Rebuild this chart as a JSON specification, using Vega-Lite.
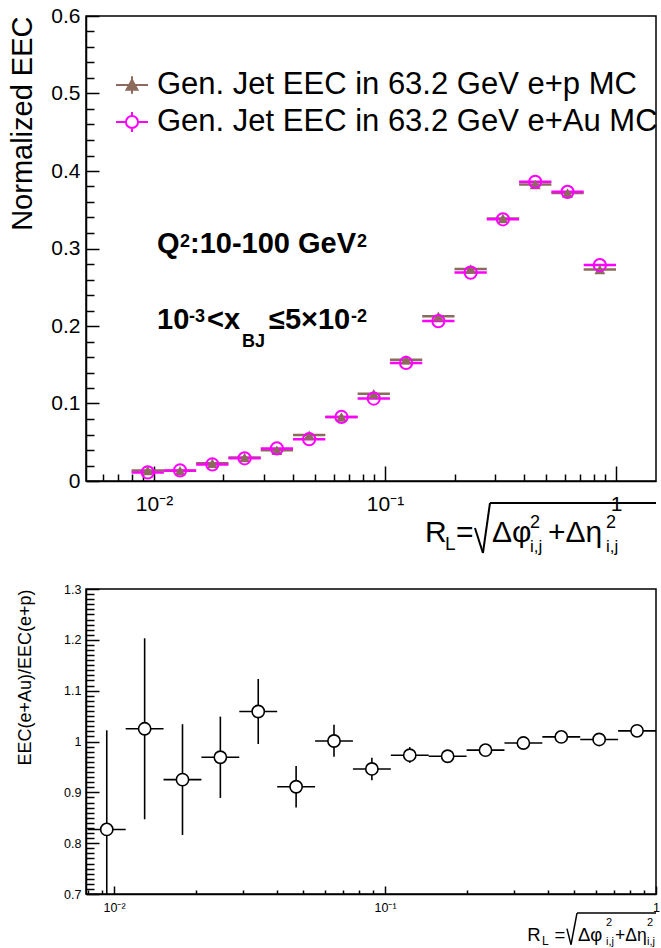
{
  "$schema": "https://vega.github.io/schema/vega-lite/v6.json",
  "background": "white",
  "padding": {"left": 8, "top": 4, "right": 4, "bottom": 0},
  "config": {
    "font": "Liberation Sans",
    "view": {"stroke": "black", "strokeWidth": 1.5},
    "axis": {
      "grid": false,
      "domainColor": "black",
      "domainWidth": 1.5,
      "tickColor": "black",
      "tickWidth": 1.5,
      "labelColor": "black",
      "titleColor": "black",
      "labelFont": "Liberation Sans",
      "titleFont": "Liberation Sans",
      "titleFontWeight": "normal",
      "labelFlush": false,
      "labelOverlap": false
    }
  },
  "datasets": {
    "eec": [
      {"series": "Gen. Jet EEC in 63.2 GeV e+p MC", "xlo": 0.008, "x": 0.0094, "xhi": 0.01104, "eec": 0.0134},
      {"series": "Gen. Jet EEC in 63.2 GeV e+p MC", "xlo": 0.01104, "x": 0.01297, "xhi": 0.01523, "eec": 0.0133},
      {"series": "Gen. Jet EEC in 63.2 GeV e+p MC", "xlo": 0.01523, "x": 0.01789, "xhi": 0.02101, "eec": 0.023},
      {"series": "Gen. Jet EEC in 63.2 GeV e+p MC", "xlo": 0.02101, "x": 0.02468, "xhi": 0.02899, "eec": 0.0302},
      {"series": "Gen. Jet EEC in 63.2 GeV e+p MC", "xlo": 0.02899, "x": 0.03405, "xhi": 0.04, "eec": 0.0397},
      {"series": "Gen. Jet EEC in 63.2 GeV e+p MC", "xlo": 0.04, "x": 0.04698, "xhi": 0.05519, "eec": 0.0592},
      {"series": "Gen. Jet EEC in 63.2 GeV e+p MC", "xlo": 0.05519, "x": 0.06482, "xhi": 0.07614, "eec": 0.0825},
      {"series": "Gen. Jet EEC in 63.2 GeV e+p MC", "xlo": 0.07614, "x": 0.08943, "xhi": 0.10506, "eec": 0.1125},
      {"series": "Gen. Jet EEC in 63.2 GeV e+p MC", "xlo": 0.10506, "x": 0.12339, "xhi": 0.14495, "eec": 0.1565},
      {"series": "Gen. Jet EEC in 63.2 GeV e+p MC", "xlo": 0.14495, "x": 0.17024, "xhi": 0.19999, "eec": 0.2125},
      {"series": "Gen. Jet EEC in 63.2 GeV e+p MC", "xlo": 0.19999, "x": 0.23488, "xhi": 0.27593, "eec": 0.2735},
      {"series": "Gen. Jet EEC in 63.2 GeV e+p MC", "xlo": 0.27593, "x": 0.32406, "xhi": 0.38071, "eec": 0.3387},
      {"series": "Gen. Jet EEC in 63.2 GeV e+p MC", "xlo": 0.38071, "x": 0.4471, "xhi": 0.52526, "eec": 0.3826},
      {"series": "Gen. Jet EEC in 63.2 GeV e+p MC", "xlo": 0.52526, "x": 0.61687, "xhi": 0.72472, "eec": 0.3716},
      {"series": "Gen. Jet EEC in 63.2 GeV e+p MC", "xlo": 0.72472, "x": 0.85109, "xhi": 1.0, "eec": 0.273},
      {"series": "Gen. Jet EEC in 63.2 GeV e+Au MC", "xlo": 0.008, "x": 0.0094, "xhi": 0.01104, "eec": 0.0111},
      {"series": "Gen. Jet EEC in 63.2 GeV e+Au MC", "xlo": 0.01104, "x": 0.01297, "xhi": 0.01523, "eec": 0.0136},
      {"series": "Gen. Jet EEC in 63.2 GeV e+Au MC", "xlo": 0.01523, "x": 0.01789, "xhi": 0.02101, "eec": 0.0213},
      {"series": "Gen. Jet EEC in 63.2 GeV e+Au MC", "xlo": 0.02101, "x": 0.02468, "xhi": 0.02899, "eec": 0.0293},
      {"series": "Gen. Jet EEC in 63.2 GeV e+Au MC", "xlo": 0.02899, "x": 0.03405, "xhi": 0.04, "eec": 0.042},
      {"series": "Gen. Jet EEC in 63.2 GeV e+Au MC", "xlo": 0.04, "x": 0.04698, "xhi": 0.05519, "eec": 0.0539},
      {"series": "Gen. Jet EEC in 63.2 GeV e+Au MC", "xlo": 0.05519, "x": 0.06482, "xhi": 0.07614, "eec": 0.0826},
      {"series": "Gen. Jet EEC in 63.2 GeV e+Au MC", "xlo": 0.07614, "x": 0.08943, "xhi": 0.10506, "eec": 0.1064},
      {"series": "Gen. Jet EEC in 63.2 GeV e+Au MC", "xlo": 0.10506, "x": 0.12339, "xhi": 0.14495, "eec": 0.1523},
      {"series": "Gen. Jet EEC in 63.2 GeV e+Au MC", "xlo": 0.14495, "x": 0.17024, "xhi": 0.19999, "eec": 0.2063},
      {"series": "Gen. Jet EEC in 63.2 GeV e+Au MC", "xlo": 0.19999, "x": 0.23488, "xhi": 0.27593, "eec": 0.2689},
      {"series": "Gen. Jet EEC in 63.2 GeV e+Au MC", "xlo": 0.27593, "x": 0.32406, "xhi": 0.38071, "eec": 0.3377},
      {"series": "Gen. Jet EEC in 63.2 GeV e+Au MC", "xlo": 0.38071, "x": 0.4471, "xhi": 0.52526, "eec": 0.386},
      {"series": "Gen. Jet EEC in 63.2 GeV e+Au MC", "xlo": 0.52526, "x": 0.61687, "xhi": 0.72472, "eec": 0.3731},
      {"series": "Gen. Jet EEC in 63.2 GeV e+Au MC", "xlo": 0.72472, "x": 0.85109, "xhi": 1.0, "eec": 0.2787}
    ],
    "ratio": [
      {"xlo": 0.008, "x": 0.0094, "xhi": 0.01104, "ratio": 0.827, "lo": 0.632, "hi": 1.022},
      {"xlo": 0.01104, "x": 0.01297, "xhi": 0.01523, "ratio": 1.025, "lo": 0.847, "hi": 1.203},
      {"xlo": 0.01523, "x": 0.01789, "xhi": 0.02101, "ratio": 0.925, "lo": 0.816, "hi": 1.034},
      {"xlo": 0.02101, "x": 0.02468, "xhi": 0.02899, "ratio": 0.969, "lo": 0.889, "hi": 1.049},
      {"xlo": 0.02899, "x": 0.03405, "xhi": 0.04, "ratio": 1.059, "lo": 0.995, "hi": 1.123},
      {"xlo": 0.04, "x": 0.04698, "xhi": 0.05519, "ratio": 0.911, "lo": 0.87, "hi": 0.952},
      {"xlo": 0.05519, "x": 0.06482, "xhi": 0.07614, "ratio": 1.001, "lo": 0.97, "hi": 1.033},
      {"xlo": 0.07614, "x": 0.08943, "xhi": 0.10506, "ratio": 0.946, "lo": 0.924, "hi": 0.968},
      {"xlo": 0.10506, "x": 0.12339, "xhi": 0.14495, "ratio": 0.973, "lo": 0.958, "hi": 0.989},
      {"xlo": 0.14495, "x": 0.17024, "xhi": 0.19999, "ratio": 0.971, "lo": 0.961, "hi": 0.981},
      {"xlo": 0.19999, "x": 0.23488, "xhi": 0.27593, "ratio": 0.983, "lo": 0.975, "hi": 0.991},
      {"xlo": 0.27593, "x": 0.32406, "xhi": 0.38071, "ratio": 0.997, "lo": 0.99, "hi": 1.004},
      {"xlo": 0.38071, "x": 0.4471, "xhi": 0.52526, "ratio": 1.009, "lo": 1.003, "hi": 1.015},
      {"xlo": 0.52526, "x": 0.61687, "xhi": 0.72472, "ratio": 1.004, "lo": 0.998, "hi": 1.01},
      {"xlo": 0.72472, "x": 0.85109, "xhi": 1.0, "ratio": 1.021, "lo": 1.015, "hi": 1.027}
    ]
  },
  "bounds": "flush",
  "spacing": 108,
  "vconcat": [
    {
      "width": 570,
      "height": 465,
      "resolve": {"axis": {"x": "independent", "y": "independent"}},
      "layer": [
        {
          "data": {"name": "eec"},
          "mark": {"type": "rule", "strokeWidth": 2.5},
          "encoding": {
            "x": {"field": "xlo", "type": "quantitative", "scale": {"type": "log", "domain": [0.00508, 1.49], "nice": false},
              "axis": {"orient": "bottom", "values": [0.01, 0.1, 1], "tickSize": -15, "labelPadding": 27, "labelFontSize": 21,
                "labelExpr": "datum.value >= 1 ? '1' : datum.value >= 0.1 ? '10⁻¹' : '10⁻²'", "title": null}},
            "x2": {"field": "xhi"},
            "y": {"field": "eec", "type": "quantitative", "scale": {"domain": [0, 0.6], "nice": false, "zero": false},
              "axis": {"orient": "left", "values": [0, 0.1, 0.2, 0.3, 0.4, 0.5, 0.6], "format": "~g", "tickSize": -13, "labelPadding": 19,
                "labelFontSize": 21, "title": "Normalized EEC", "titleFontSize": 29, "titleAnchor": "end", "titlePadding": 13}},
            "color": {"field": "series", "type": "nominal",
              "scale": {"domain": ["Gen. Jet EEC in 63.2 GeV e+p MC", "Gen. Jet EEC in 63.2 GeV e+Au MC"], "range": ["#8c6b5d", "#ff00ff"]},
              "legend": {
                "orient": "none", "legendX": 29, "legendY": 52, "title": null, "padding": 0,
                "labelFont": "Liberation Sans", "labelFontSize": 31, "labelColor": "black", "labelLimit": 1000,
                "labelOffset": 8, "symbolSize": 1024, "rowPadding": 5, "symbolStrokeWidth": 2,
                "encode": {
                  "symbols": {
                    "update": {
                      "shape": {"signal": "datum.value === 'Gen. Jet EEC in 63.2 GeV e+p MC' ? 'M-1,0L1,0M0,-0.55L0,0.55M-0.34,0.3L0.34,0.3L0,-0.32Z' : 'M-1,0L-0.38,0M0.38,0L1,0M0,-0.62L0,-0.38M0,0.38L0,0.62M0.38,0A0.38,0.38,0,1,1,-0.38,0A0.38,0.38,0,1,1,0.38,0Z'"},
                      "fill": {"signal": "datum.value === 'Gen. Jet EEC in 63.2 GeV e+p MC' ? '#8c6b5d' : 'transparent'"},
                      "fillOpacity": {"value": 1},
                      "strokeWidth": {"value": 2}
                    }
                  }
                }
              }
            }
          }
        },
        {
          "data": {"name": "eec"},
          "transform": [{"filter": "datum.series === 'Gen. Jet EEC in 63.2 GeV e+p MC'"}],
          "mark": {"type": "point", "shape": "triangle-up", "filled": true, "color": "#8c6b5d", "size": 120, "opacity": 1},
          "encoding": {
            "x": {"field": "x", "type": "quantitative", "scale": {"type": "log", "domain": [0.00508, 1.49], "nice": false}, "axis": null},
            "y": {"field": "eec", "type": "quantitative", "scale": {"domain": [0, 0.6], "nice": false, "zero": false}, "axis": null}
          }
        },
        {
          "data": {"name": "eec"},
          "transform": [{"filter": "datum.series === 'Gen. Jet EEC in 63.2 GeV e+Au MC'"}],
          "mark": {"type": "point", "shape": "circle", "filled": false, "color": "#ff00ff", "strokeWidth": 2, "size": 150, "opacity": 1},
          "encoding": {
            "x": {"field": "x", "type": "quantitative", "scale": {"type": "log", "domain": [0.00508, 1.49], "nice": false}, "axis": null},
            "y": {"field": "eec", "type": "quantitative", "scale": {"domain": [0, 0.6], "nice": false, "zero": false}, "axis": null}
          }
        },
        {
          "data": {"name": "eec"},
          "mark": {"type": "point", "opacity": 0},
          "encoding": {
            "x": {"field": "x", "type": "quantitative", "scale": {"type": "log", "domain": [0.00508, 1.49], "nice": false},
              "axis": {"orient": "bottom", "values": [0.006, 0.007, 0.008, 0.009, 0.02, 0.03, 0.04, 0.05, 0.06, 0.07, 0.08, 0.09, 0.2, 0.3, 0.4, 0.5, 0.6, 0.7, 0.8, 0.9],
                "tickSize": -7, "labels": false, "domain": false, "title": null}},
            "y": {"field": "eec", "type": "quantitative", "scale": {"domain": [0, 0.6], "nice": false, "zero": false},
              "axis": {"orient": "left", "values": [0.02, 0.04, 0.06, 0.08, 0.12, 0.14, 0.16, 0.18, 0.22, 0.24, 0.26, 0.28, 0.32, 0.34, 0.36, 0.38, 0.42, 0.44, 0.46, 0.48, 0.52, 0.54, 0.56, 0.58],
                "tickSize": -8, "labels": false, "domain": false, "title": null}}
          }
        },
        {
          "data": {"values": [{}]},
          "mark": {"type": "text", "text": "Q", "align": "left", "baseline": "alphabetic", "fontSize": 29, "fontWeight": "bold", "color": "black"},
          "encoding": {
            "x": {"datum": 0.01031, "type": "quantitative", "scale": {"type": "log", "domain": [0.00508, 1.49], "nice": false}, "axis": null},
            "y": {"datum": 0.2942, "type": "quantitative", "scale": {"domain": [0, 0.6], "nice": false, "zero": false}, "axis": null}
          }
        },
        {
          "data": {"values": [{}]},
          "mark": {"type": "text", "text": "2", "align": "left", "baseline": "alphabetic", "fontSize": 18, "fontWeight": "bold", "color": "black"},
          "encoding": {
            "x": {"datum": 0.01296, "type": "quantitative", "scale": {"type": "log", "domain": [0.00508, 1.49], "nice": false}, "axis": null},
            "y": {"datum": 0.3019, "type": "quantitative", "scale": {"domain": [0, 0.6], "nice": false, "zero": false}, "axis": null}
          }
        },
        {
          "data": {"values": [{}]},
          "mark": {"type": "text", "text": ":10-100 GeV", "align": "left", "baseline": "alphabetic", "fontSize": 29, "fontWeight": "bold", "color": "black"},
          "encoding": {
            "x": {"datum": 0.01432, "type": "quantitative", "scale": {"type": "log", "domain": [0.00508, 1.49], "nice": false}, "axis": null},
            "y": {"datum": 0.2942, "type": "quantitative", "scale": {"domain": [0, 0.6], "nice": false, "zero": false}, "axis": null}
          }
        },
        {
          "data": {"values": [{}]},
          "mark": {"type": "text", "text": "2", "align": "left", "baseline": "alphabetic", "fontSize": 18, "fontWeight": "bold", "color": "black"},
          "encoding": {
            "x": {"datum": 0.07564, "type": "quantitative", "scale": {"type": "log", "domain": [0.00508, 1.49], "nice": false}, "axis": null},
            "y": {"datum": 0.3019, "type": "quantitative", "scale": {"domain": [0, 0.6], "nice": false, "zero": false}, "axis": null}
          }
        },
        {
          "data": {"values": [{}]},
          "mark": {"type": "text", "text": "10", "align": "left", "baseline": "alphabetic", "fontSize": 29, "fontWeight": "bold", "color": "black"},
          "encoding": {
            "x": {"datum": 0.01031, "type": "quantitative", "scale": {"type": "log", "domain": [0.00508, 1.49], "nice": false}, "axis": null},
            "y": {"datum": 0.1961, "type": "quantitative", "scale": {"domain": [0, 0.6], "nice": false, "zero": false}, "axis": null}
          }
        },
        {
          "data": {"values": [{}]},
          "mark": {"type": "text", "text": "-3", "align": "left", "baseline": "alphabetic", "fontSize": 18, "fontWeight": "bold", "color": "black"},
          "encoding": {
            "x": {"datum": 0.01418, "type": "quantitative", "scale": {"type": "log", "domain": [0.00508, 1.49], "nice": false}, "axis": null},
            "y": {"datum": 0.2052, "type": "quantitative", "scale": {"domain": [0, 0.6], "nice": false, "zero": false}, "axis": null}
          }
        },
        {
          "data": {"values": [{}]},
          "mark": {"type": "text", "text": "<x", "align": "left", "baseline": "alphabetic", "fontSize": 29, "fontWeight": "bold", "color": "black"},
          "encoding": {
            "x": {"datum": 0.01696, "type": "quantitative", "scale": {"type": "log", "domain": [0.00508, 1.49], "nice": false}, "axis": null},
            "y": {"datum": 0.1961, "type": "quantitative", "scale": {"domain": [0, 0.6], "nice": false, "zero": false}, "axis": null}
          }
        },
        {
          "data": {"values": [{}]},
          "mark": {"type": "text", "text": "BJ", "align": "left", "baseline": "alphabetic", "fontSize": 18, "fontWeight": "bold", "color": "black"},
          "encoding": {
            "x": {"datum": 0.02404, "type": "quantitative", "scale": {"type": "log", "domain": [0.00508, 1.49], "nice": false}, "axis": null},
            "y": {"datum": 0.1729, "type": "quantitative", "scale": {"domain": [0, 0.6], "nice": false, "zero": false}, "axis": null}
          }
        },
        {
          "data": {"values": [{}]},
          "mark": {"type": "text", "text": "≤5×10", "align": "left", "baseline": "alphabetic", "fontSize": 29, "fontWeight": "bold", "color": "black"},
          "encoding": {
            "x": {"datum": 0.03147, "type": "quantitative", "scale": {"type": "log", "domain": [0.00508, 1.49], "nice": false}, "axis": null},
            "y": {"datum": 0.1961, "type": "quantitative", "scale": {"domain": [0, 0.6], "nice": false, "zero": false}, "axis": null}
          }
        },
        {
          "data": {"values": [{}]},
          "mark": {"type": "text", "text": "-2", "align": "left", "baseline": "alphabetic", "fontSize": 18, "fontWeight": "bold", "color": "black"},
          "encoding": {
            "x": {"datum": 0.07127, "type": "quantitative", "scale": {"type": "log", "domain": [0.00508, 1.49], "nice": false}, "axis": null},
            "y": {"datum": 0.2052, "type": "quantitative", "scale": {"domain": [0, 0.6], "nice": false, "zero": false}, "axis": null}
          }
        },
        {
          "data": {"values": [{}]},
          "mark": {"type": "text", "text": "R", "align": "left", "baseline": "alphabetic", "fontSize": 30, "color": "black"},
          "encoding": {
            "x": {"datum": 0.149, "type": "quantitative", "scale": {"type": "log", "domain": [0.00508, 1.49], "nice": false}, "axis": null},
            "y": {"datum": -0.0787, "type": "quantitative", "scale": {"domain": [0, 0.6], "nice": false, "zero": false}, "axis": null}
          }
        },
        {
          "data": {"values": [{}]},
          "mark": {"type": "text", "text": "L", "align": "left", "baseline": "alphabetic", "fontSize": 19, "color": "black"},
          "encoding": {
            "x": {"datum": 0.1818, "type": "quantitative", "scale": {"type": "log", "domain": [0.00508, 1.49], "nice": false}, "axis": null},
            "y": {"datum": -0.089, "type": "quantitative", "scale": {"domain": [0, 0.6], "nice": false, "zero": false}, "axis": null}
          }
        },
        {
          "data": {"values": [{}]},
          "mark": {"type": "text", "text": "=", "align": "left", "baseline": "alphabetic", "fontSize": 30, "color": "black"},
          "encoding": {
            "x": {"datum": 0.203, "type": "quantitative", "scale": {"type": "log", "domain": [0.00508, 1.49], "nice": false}, "axis": null},
            "y": {"datum": -0.0787, "type": "quantitative", "scale": {"domain": [0, 0.6], "nice": false, "zero": false}, "axis": null}
          }
        },
        {
          "data": {"values": [{}]},
          "mark": {"type": "rule", "color": "black", "strokeWidth": 2},
          "encoding": {
            "x": {"datum": 0.2452, "type": "quantitative", "scale": {"type": "log", "domain": [0.00508, 1.49], "nice": false}, "axis": null},
            "x2": {"datum": 0.2655},
            "y": {"datum": -0.0606, "type": "quantitative", "scale": {"domain": [0, 0.6], "nice": false, "zero": false}, "axis": null},
            "y2": {"datum": -0.0929}
          }
        },
        {
          "data": {"values": [{}]},
          "mark": {"type": "rule", "color": "black", "strokeWidth": 2},
          "encoding": {
            "x": {"datum": 0.2655, "type": "quantitative", "scale": {"type": "log", "domain": [0.00508, 1.49], "nice": false}, "axis": null},
            "x2": {"datum": 0.2848},
            "y": {"datum": -0.0929, "type": "quantitative", "scale": {"domain": [0, 0.6], "nice": false, "zero": false}, "axis": null},
            "y2": {"datum": -0.0284}
          }
        },
        {
          "data": {"values": [{}]},
          "mark": {"type": "rule", "color": "black", "strokeWidth": 2},
          "encoding": {
            "x": {"datum": 0.2848, "type": "quantitative", "scale": {"type": "log", "domain": [0.00508, 1.49], "nice": false}, "axis": null},
            "x2": {"datum": 1.49},
            "y": {"datum": -0.0284, "type": "quantitative", "scale": {"domain": [0, 0.6], "nice": false, "zero": false}, "axis": null}
          }
        },
        {
          "data": {"values": [{}]},
          "mark": {"type": "text", "text": "Δφ", "align": "left", "baseline": "alphabetic", "fontSize": 30, "color": "black"},
          "encoding": {
            "x": {"datum": 0.2905, "type": "quantitative", "scale": {"type": "log", "domain": [0.00508, 1.49], "nice": false}, "axis": null},
            "y": {"datum": -0.0787, "type": "quantitative", "scale": {"domain": [0, 0.6], "nice": false, "zero": false}, "axis": null}
          }
        },
        {
          "data": {"values": [{}]},
          "mark": {"type": "text", "text": "2", "align": "left", "baseline": "alphabetic", "fontSize": 18, "color": "black"},
          "encoding": {
            "x": {"datum": 0.4243, "type": "quantitative", "scale": {"type": "log", "domain": [0.00508, 1.49], "nice": false}, "axis": null},
            "y": {"datum": -0.0606, "type": "quantitative", "scale": {"domain": [0, 0.6], "nice": false, "zero": false}, "axis": null}
          }
        },
        {
          "data": {"values": [{}]},
          "mark": {"type": "text", "text": "i,j", "align": "left", "baseline": "alphabetic", "fontSize": 17, "color": "black"},
          "encoding": {
            "x": {"datum": 0.4243, "type": "quantitative", "scale": {"type": "log", "domain": [0.00508, 1.49], "nice": false}, "axis": null},
            "y": {"datum": -0.0916, "type": "quantitative", "scale": {"domain": [0, 0.6], "nice": false, "zero": false}, "axis": null}
          }
        },
        {
          "data": {"values": [{}]},
          "mark": {"type": "text", "text": "+Δη", "align": "left", "baseline": "alphabetic", "fontSize": 30, "color": "black"},
          "encoding": {
            "x": {"datum": 0.5077, "type": "quantitative", "scale": {"type": "log", "domain": [0.00508, 1.49], "nice": false}, "axis": null},
            "y": {"datum": -0.0787, "type": "quantitative", "scale": {"domain": [0, 0.6], "nice": false, "zero": false}, "axis": null}
          }
        },
        {
          "data": {"values": [{}]},
          "mark": {"type": "text", "text": "2", "align": "left", "baseline": "alphabetic", "fontSize": 18, "color": "black"},
          "encoding": {
            "x": {"datum": 0.9051, "type": "quantitative", "scale": {"type": "log", "domain": [0.00508, 1.49], "nice": false}, "axis": null},
            "y": {"datum": -0.0606, "type": "quantitative", "scale": {"domain": [0, 0.6], "nice": false, "zero": false}, "axis": null}
          }
        },
        {
          "data": {"values": [{}]},
          "mark": {"type": "text", "text": "i,j", "align": "left", "baseline": "alphabetic", "fontSize": 17, "color": "black"},
          "encoding": {
            "x": {"datum": 0.9051, "type": "quantitative", "scale": {"type": "log", "domain": [0.00508, 1.49], "nice": false}, "axis": null},
            "y": {"datum": -0.0916, "type": "quantitative", "scale": {"domain": [0, 0.6], "nice": false, "zero": false}, "axis": null}
          }
        }
      ]
    },
    {
      "width": 570,
      "height": 305,
      "resolve": {"axis": {"x": "independent", "y": "independent"}},
      "layer": [
        {
          "data": {"name": "ratio"},
          "mark": {"type": "rule", "color": "black", "strokeWidth": 1.6},
          "encoding": {
            "x": {"field": "xlo", "type": "quantitative", "scale": {"type": "log", "domain": [0.00788, 1], "nice": false},
              "axis": {"orient": "bottom", "values": [0.01, 0.1, 1], "tickSize": -8, "labelPadding": 15, "labelFontSize": 12.5,
                "labelExpr": "datum.value >= 1 ? '1' : datum.value >= 0.1 ? '10⁻¹' : '10⁻²'", "title": null}},
            "x2": {"field": "xhi"},
            "y": {"field": "ratio", "type": "quantitative", "scale": {"domain": [0.7, 1.3], "nice": false, "zero": false},
              "axis": {"orient": "left", "values": [0.7, 0.8, 0.9, 1, 1.1, 1.2, 1.3], "format": "~g", "tickSize": -13, "labelPadding": 18,
                "labelFontSize": 12.5, "title": "EEC(e+Au)/EEC(e+p)", "titleFontSize": 18, "titleAnchor": "end", "titlePadding": 29}}
          }
        },
        {
          "data": {"name": "ratio"},
          "mark": {"type": "rule", "color": "black", "strokeWidth": 1.6, "clip": true},
          "encoding": {
            "x": {"field": "x", "type": "quantitative", "scale": {"type": "log", "domain": [0.00788, 1], "nice": false}, "axis": null},
            "y": {"field": "lo", "type": "quantitative", "scale": {"domain": [0.7, 1.3], "nice": false, "zero": false}, "axis": null},
            "y2": {"field": "hi"}
          }
        },
        {
          "data": {"name": "ratio"},
          "mark": {"type": "point", "shape": "circle", "filled": true, "fill": "white", "stroke": "black", "strokeWidth": 1.6, "size": 150, "opacity": 1},
          "encoding": {
            "x": {"field": "x", "type": "quantitative", "scale": {"type": "log", "domain": [0.00788, 1], "nice": false}, "axis": null},
            "y": {"field": "ratio", "type": "quantitative", "scale": {"domain": [0.7, 1.3], "nice": false, "zero": false}, "axis": null}
          }
        },
        {
          "data": {"name": "ratio"},
          "mark": {"type": "point", "opacity": 0},
          "encoding": {
            "x": {"field": "x", "type": "quantitative", "scale": {"type": "log", "domain": [0.00788, 1], "nice": false},
              "axis": {"orient": "bottom", "values": [0.008, 0.009, 0.02, 0.03, 0.04, 0.05, 0.06, 0.07, 0.08, 0.09, 0.2, 0.3, 0.4, 0.5, 0.6, 0.7, 0.8, 0.9],
                "tickSize": -4, "labels": false, "domain": false, "title": null}},
            "y": {"field": "ratio", "type": "quantitative", "scale": {"domain": [0.7, 1.3], "nice": false, "zero": false},
              "axis": {"orient": "left", "values": [0.71, 0.72, 0.73, 0.74, 0.75, 0.76, 0.77, 0.78, 0.79, 0.81, 0.82, 0.83, 0.84, 0.85, 0.86, 0.87, 0.88, 0.89, 0.91, 0.92, 0.93, 0.94, 0.95, 0.96, 0.97, 0.98, 0.99, 1.01, 1.02, 1.03, 1.04, 1.05, 1.06, 1.07, 1.08, 1.09, 1.11, 1.12, 1.13, 1.14, 1.15, 1.16, 1.17, 1.18, 1.19, 1.21, 1.22, 1.23, 1.24, 1.25, 1.26, 1.27, 1.28, 1.29],
                "tickSize": -8, "labels": false, "domain": false, "title": null}}
          }
        },
        {
          "data": {"values": [{}]},
          "mark": {"type": "text", "text": "R", "align": "left", "baseline": "alphabetic", "fontSize": 18.5, "color": "black"},
          "encoding": {
            "x": {"datum": 0.335, "type": "quantitative", "scale": {"type": "log", "domain": [0.00788, 1], "nice": false}, "axis": null},
            "y": {"datum": 0.6083, "type": "quantitative", "scale": {"domain": [0.7, 1.3], "nice": false, "zero": false}, "axis": null}
          }
        },
        {
          "data": {"values": [{}]},
          "mark": {"type": "text", "text": "L", "align": "left", "baseline": "alphabetic", "fontSize": 12, "color": "black"},
          "encoding": {
            "x": {"datum": 0.3796, "type": "quantitative", "scale": {"type": "log", "domain": [0.00788, 1], "nice": false}, "axis": null},
            "y": {"datum": 0.6004, "type": "quantitative", "scale": {"domain": [0.7, 1.3], "nice": false, "zero": false}, "axis": null}
          }
        },
        {
          "data": {"values": [{}]},
          "mark": {"type": "text", "text": "=", "align": "left", "baseline": "alphabetic", "fontSize": 18.5, "color": "black"},
          "encoding": {
            "x": {"datum": 0.4224, "type": "quantitative", "scale": {"type": "log", "domain": [0.00788, 1], "nice": false}, "axis": null},
            "y": {"datum": 0.6083, "type": "quantitative", "scale": {"domain": [0.7, 1.3], "nice": false, "zero": false}, "axis": null}
          }
        },
        {
          "data": {"values": [{}]},
          "mark": {"type": "rule", "color": "black", "strokeWidth": 1.5},
          "encoding": {
            "x": {"datum": 0.4694, "type": "quantitative", "scale": {"type": "log", "domain": [0.00788, 1], "nice": false}, "axis": null},
            "x2": {"datum": 0.4856},
            "y": {"datum": 0.6319, "type": "quantitative", "scale": {"domain": [0.7, 1.3], "nice": false, "zero": false}, "axis": null},
            "y2": {"datum": 0.6004}
          }
        },
        {
          "data": {"values": [{}]},
          "mark": {"type": "rule", "color": "black", "strokeWidth": 1.5},
          "encoding": {
            "x": {"datum": 0.4856, "type": "quantitative", "scale": {"type": "log", "domain": [0.00788, 1], "nice": false}, "axis": null},
            "x2": {"datum": 0.511},
            "y": {"datum": 0.6004, "type": "quantitative", "scale": {"domain": [0.7, 1.3], "nice": false, "zero": false}, "axis": null},
            "y2": {"datum": 0.6624}
          }
        },
        {
          "data": {"values": [{}]},
          "mark": {"type": "rule", "color": "black", "strokeWidth": 1.5},
          "encoding": {
            "x": {"datum": 0.511, "type": "quantitative", "scale": {"type": "log", "domain": [0.00788, 1], "nice": false}, "axis": null},
            "x2": {"datum": 1},
            "y": {"datum": 0.6624, "type": "quantitative", "scale": {"domain": [0.7, 1.3], "nice": false, "zero": false}, "axis": null}
          }
        },
        {
          "data": {"values": [{}]},
          "mark": {"type": "text", "text": "Δφ", "align": "left", "baseline": "alphabetic", "fontSize": 18.5, "color": "black"},
          "encoding": {
            "x": {"datum": 0.5154, "type": "quantitative", "scale": {"type": "log", "domain": [0.00788, 1], "nice": false}, "axis": null},
            "y": {"datum": 0.6083, "type": "quantitative", "scale": {"domain": [0.7, 1.3], "nice": false, "zero": false}, "axis": null}
          }
        },
        {
          "data": {"values": [{}]},
          "mark": {"type": "text", "text": "2", "align": "left", "baseline": "alphabetic", "fontSize": 11, "color": "black"},
          "encoding": {
            "x": {"datum": 0.6537, "type": "quantitative", "scale": {"type": "log", "domain": [0.00788, 1], "nice": false}, "axis": null},
            "y": {"datum": 0.6378, "type": "quantitative", "scale": {"domain": [0.7, 1.3], "nice": false, "zero": false}, "axis": null}
          }
        },
        {
          "data": {"values": [{}]},
          "mark": {"type": "text", "text": "i,j", "align": "left", "baseline": "alphabetic", "fontSize": 11, "color": "black"},
          "encoding": {
            "x": {"datum": 0.6537, "type": "quantitative", "scale": {"type": "log", "domain": [0.00788, 1], "nice": false}, "axis": null},
            "y": {"datum": 0.6004, "type": "quantitative", "scale": {"domain": [0.7, 1.3], "nice": false, "zero": false}, "axis": null}
          }
        },
        {
          "data": {"values": [{}]},
          "mark": {"type": "text", "text": "+Δη", "align": "left", "baseline": "alphabetic", "fontSize": 17.5, "color": "black"},
          "encoding": {
            "x": {"datum": 0.7061, "type": "quantitative", "scale": {"type": "log", "domain": [0.00788, 1], "nice": false}, "axis": null},
            "y": {"datum": 0.6083, "type": "quantitative", "scale": {"domain": [0.7, 1.3], "nice": false, "zero": false}, "axis": null}
          }
        },
        {
          "data": {"values": [{}]},
          "mark": {"type": "text", "text": "2", "align": "left", "baseline": "alphabetic", "fontSize": 11, "color": "black"},
          "encoding": {
            "x": {"datum": 0.9264, "type": "quantitative", "scale": {"type": "log", "domain": [0.00788, 1], "nice": false}, "axis": null},
            "y": {"datum": 0.6378, "type": "quantitative", "scale": {"domain": [0.7, 1.3], "nice": false, "zero": false}, "axis": null}
          }
        },
        {
          "data": {"values": [{}]},
          "mark": {"type": "text", "text": "i,j", "align": "left", "baseline": "alphabetic", "fontSize": 11, "color": "black"},
          "encoding": {
            "x": {"datum": 0.9264, "type": "quantitative", "scale": {"type": "log", "domain": [0.00788, 1], "nice": false}, "axis": null},
            "y": {"datum": 0.6004, "type": "quantitative", "scale": {"domain": [0.7, 1.3], "nice": false, "zero": false}, "axis": null}
          }
        }
      ]
    }
  ]
}
